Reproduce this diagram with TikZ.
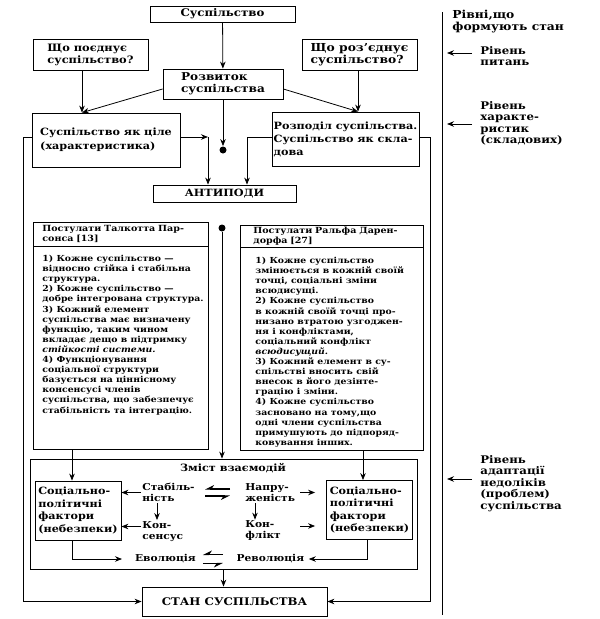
\documentclass[tikz,border=0pt]{standalone}
\usepackage{fontspec}
\setmainfont{DejaVu Serif}[FakeStretch=1.12]
\usetikzlibrary{arrows.meta, positioning, fit}

\begin{document}
\begin{tikzpicture}[
        x=1pt, y=-1pt,
        line width=0.8pt,
        >={Stealth[length=7pt, width=5.5pt]},
        box/.style={
            draw,
            font=\bfseries\fontsize{10}{13}\selectfont,
            align=left,
            inner sep=1pt
        },
        caps/.style={
            draw,
            font=\bfseries\fontsize{10}{12}\selectfont,
            align=center,
            inner sep=1pt
        },
        head/.style={
            draw,
            anchor=north west,
            font=\bfseries\fontsize{8.5}{10.1}\selectfont,
            align=left,
            inner ysep=1pt
        },
        post/.style={
            anchor=north west,
            font=\bfseries\fontsize{8.3}{10.1}\selectfont,
            align=left,
            inner sep=0pt
        },
        fac/.style={
            draw,
            font=\bfseries\fontsize{10}{12.5}\selectfont,
            align=left,
            inner sep=1pt,
            minimum width=86pt,
            minimum height=59pt
        },
        lbl/.style={
            font=\bfseries\fontsize{9.5}{11}\selectfont,
            align=left,
            inner sep=1pt
        },
        lvl/.style={
            anchor=north west,
            font=\bfseries\fontsize{10.5}{11.5}\selectfont,
            align=left,
            inner sep=0pt
        },
        dot/.style={circle, fill, inner sep=0pt, minimum size=7pt},
        harp/.style={line width=1.1pt, -{Stealth[harpoon, swap, length=8pt, width=8pt]}}
    ]
    \useasboundingbox (0,0) rectangle (600,619);

    % рівень питань
    \node[caps, minimum width=145pt, minimum height=16pt, font=\bfseries\fontsize{10.5}{12}\selectfont] (soc) at (222.5,14) {Суспільство};
    \node[box, font=\bfseries\fontsize{10.2}{12}\selectfont, minimum width=115pt, minimum height=31pt] (unite) at (90.5,54.5) {Що поєднує\\суспільство?};
    \node[box, font=\bfseries\fontsize{11}{11.5}\selectfont, minimum width=115pt, minimum height=31pt] (split) at (359.5,54.5) {Що роз’єднує\\суспільство?};
    \node[box, font=\bfseries\fontsize{10.8}{12}\selectfont, minimum width=120pt, minimum height=30pt] (dev) at (223,84) {Розвиток\\суспільства};

    % рівень характеристик
    \node[box, font=\bfseries\fontsize{10}{14}\selectfont, minimum width=148pt, minimum height=54pt] (whole) at (106,140) {Суспільство як ціле\\(характеристика)};
    \node[box, minimum width=147pt, minimum height=54pt] (part) at (345.5,139) {Розподіл суспільства.\\Суспільство як скла-\\дова};
    \node[dot] (dot1) at (223,150) {};
    \node[caps, minimum width=143pt, minimum height=17pt] (anti) at (224.5,193.5) {АНТИПОДИ};

    % постулати
    \node[head, inner xsep=9pt, text width=157pt, minimum height=24pt] (parsH) at (33,222) {Постулати Талкотта Пар-\\сонса [13]};
    \node[post, below right=8pt and 9pt of parsH.south west] (parsT) {1) Кожне суспільство —\\відносно стійка і стабільна\\структура.\\2) Кожне суспільство —\\добре інтегрована структура.\\3) Кожний елемент\\суспільства має визначену\\функцію, таким чином\\вкладає дещо в підтримку\\\textit{стійкості системи.}\\4) Функціонування\\соціальної структури\\базується на ціннісному\\консенсусі членів\\суспільства, що забезпечує\\стабільність та інтеграцію.};
    \coordinate (parsE) at (208,449);
    \node[draw, fit=(parsH.south west)(parsE), inner sep=0pt] (parsB) {};

    \node[head, inner xsep=13pt, text width=157pt, minimum height=22pt] (darH) at (240,225) {Постулати Ральфа Дарен-\\дорфа [27]};
    \node[post, below right=9pt and 15pt of darH.south west] (darT) {1) Кожне суспільство\\змінюється в кожній своїй\\точці, соціальні зміни\\всюдисущі.\\2) Кожне суспільство\\в кожній своїй точці про-\\низано втратою узгоджен-\\ня і конфліктами,\\соціальний конфлікт\\\textit{всюдисущий.}\\3) Кожний елемент в су-\\спільстві вносить свій\\внесок в його дезінте-\\грацію і зміни.\\4) Кожне суспільство\\засновано на тому,що\\одні члени суспільства\\примушують до підпоряд-\\ковування інших.};
    \coordinate (darE) at (423,450);
    \node[draw, fit=(darH.south west)(darE), inner sep=0pt] (darB) {};
    \node[dot] (dot2) at (222,228) {};

    % зміст взаємодій
    \node[draw, minimum width=387pt, minimum height=110pt] (zmist) at (223.5,514) {};
    \node[lbl, font=\bfseries\fontsize{10}{12}\selectfont] (zmistT) at (233,468) {Зміст взаємодій};
    \node[fac] (facL) at (78,510.5) {Соціально-\\політичні\\фактори\\(небезпеки)};
    \node[fac] (facR) at (369.5,510) {Соціально-\\політичні\\фактори\\(небезпеки)};
    \node[lbl, anchor=west] (stab) at (141,492.5) {Стабіль-\\ність};
    \node[lbl, anchor=west] (kons) at (141,531.5) {Кон-\\сенсус};
    \node[lbl, anchor=west] (napr) at (244,492.5) {Напру-\\женість};
    \node[lbl, anchor=west] (konf) at (244,531) {Кон-\\флікт};
    \node[lbl, anchor=west, minimum width=64pt] (evol) at (133,559) {Еволюція};
    \node[lbl, anchor=west, minimum width=70pt] (rev) at (235,559) {Революція};

    \node[caps, minimum width=185pt, minimum height=29pt, font=\bfseries\fontsize{10.5}{12}\selectfont] (stan) at (234.5,601.5) {СТАН СУСПІЛЬСТВА};

    % стрілки верхньої частини
    \coordinate (cornL) at (208,137);
    \coordinate (outL) at (23,0);
    \coordinate (outR) at (430,0);
    \draw[->] (soc) -- (dev);
    \draw[->] ([xshift=-8.5pt]unite.south) -- ([xshift=-24pt]whole.north);
    \draw[->] ([yshift=-5pt]dev.west) -- ([xshift=-24pt]whole.north);
    \draw[->] ([xshift=-1.5pt]split.south) -- ([xshift=12.5pt]part.north);
    \draw[->] ([yshift=-5pt]dev.east) -- ([xshift=12.5pt]part.north);
    \draw[->] (dev) -- (dot1);
    \draw[->] ([yshift=3pt]whole.east) -- (cornL);
    \draw[->] (cornL) -- (cornL |- anti.north);
    \draw[->] ([yshift=2pt]part.west) -| ([xshift=22.5pt]anti.north);
    \draw[->] ([yshift=3pt]whole.west) -| (stan.west -| outL) -- (stan.west);
    \draw[->] ([yshift=2pt]part.east) -| (stan.east -| outR) -- (stan.east);

    % стрілки середньої частини
    \draw[->] (dot2) -- (dot2 |- zmist.north);
    \draw[->] ([xshift=-6pt]facL.north |- parsB.south) -- ([xshift=-6pt]facL.north);
    \draw[->] ([xshift=-6.5pt]facR.north |- darB.south) -- ([xshift=-6.5pt]facR.north);
    \draw[->] (stab.west) -- (stab.west -| facL.east);
    \draw[->] ([yshift=5pt]kons.west) -- ([yshift=5pt]kons.west -| facL.east);
    \draw[->] ([xshift=16pt]stab.south west) -- ([xshift=16pt]stab.south west |- kons.north);
    \draw[->, shorten >=11pt] ([xshift=56pt]napr.west) -- (napr.west -| facR.west);
    \draw[->, shorten >=11pt] ([xshift=56pt, yshift=5pt]konf.west) -- ([yshift=5pt]konf.west -| facR.west);
    \draw[->] ([xshift=11pt]napr.south west) -- ([xshift=11pt]napr.south west |- konf.north);
    \draw[harp] ([xshift=-14pt, yshift=3.5pt]napr.west) -- ([xshift=64pt, yshift=3.5pt]stab.west);
    \draw[harp] ([xshift=64pt, yshift=-3.5pt]stab.west) -- ([xshift=-14pt, yshift=-3.5pt]napr.west);
    \draw[harp, shorten <=12pt, shorten >=5pt] ([yshift=4.5pt]rev.west) -- ([yshift=4.5pt]evol.east);
    \draw[harp, shorten <=5pt, shorten >=12pt] ([yshift=-4.5pt]evol.east) -- ([yshift=-4.5pt]rev.west);
    \draw[->, shorten >=11pt] ([xshift=-6pt]facL.south) |- (evol.west);
    \draw[->, shorten >=3pt] ([xshift=-2.5pt]facR.south) |- (rev.east);
    \draw[->] (zmist.south) -- (zmist.south |- stan.north);

    % шкала рівнів
    \coordinate (axT) at (442,12);
    \coordinate (axB) at (442,615);
    \draw (axT) -- (axB);
    \node[lvl, font=\bfseries\fontsize{11}{11.5}\selectfont] (lvl0) at (452,10) {Рівні,що\\формують стан};
    \node[lvl] (lvl1) at (480,46) {Рівень\\питань};
    \node[lvl] (lvl2) at (480,101) {Рівень\\характе-\\ристик\\(складових)};
    \node[lvl] (lvl3) at (480,455) {Рівень\\адаптації\\недоліків\\(проблем)\\суспільства};
    \coordinate (ax1) at (447,53);
    \coordinate (ar1) at (472,53);
    \coordinate (ax2) at (447,124);
    \coordinate (ar2) at (472,124);
    \coordinate (ax3) at (447,479);
    \coordinate (ar3) at (472,479);
    \draw[->] (ar1) -- (ax1);
    \draw[->] (ar2) -- (ax2);
    \draw[->] (ar3) -- (ax3);
\end{tikzpicture}
\end{document}
